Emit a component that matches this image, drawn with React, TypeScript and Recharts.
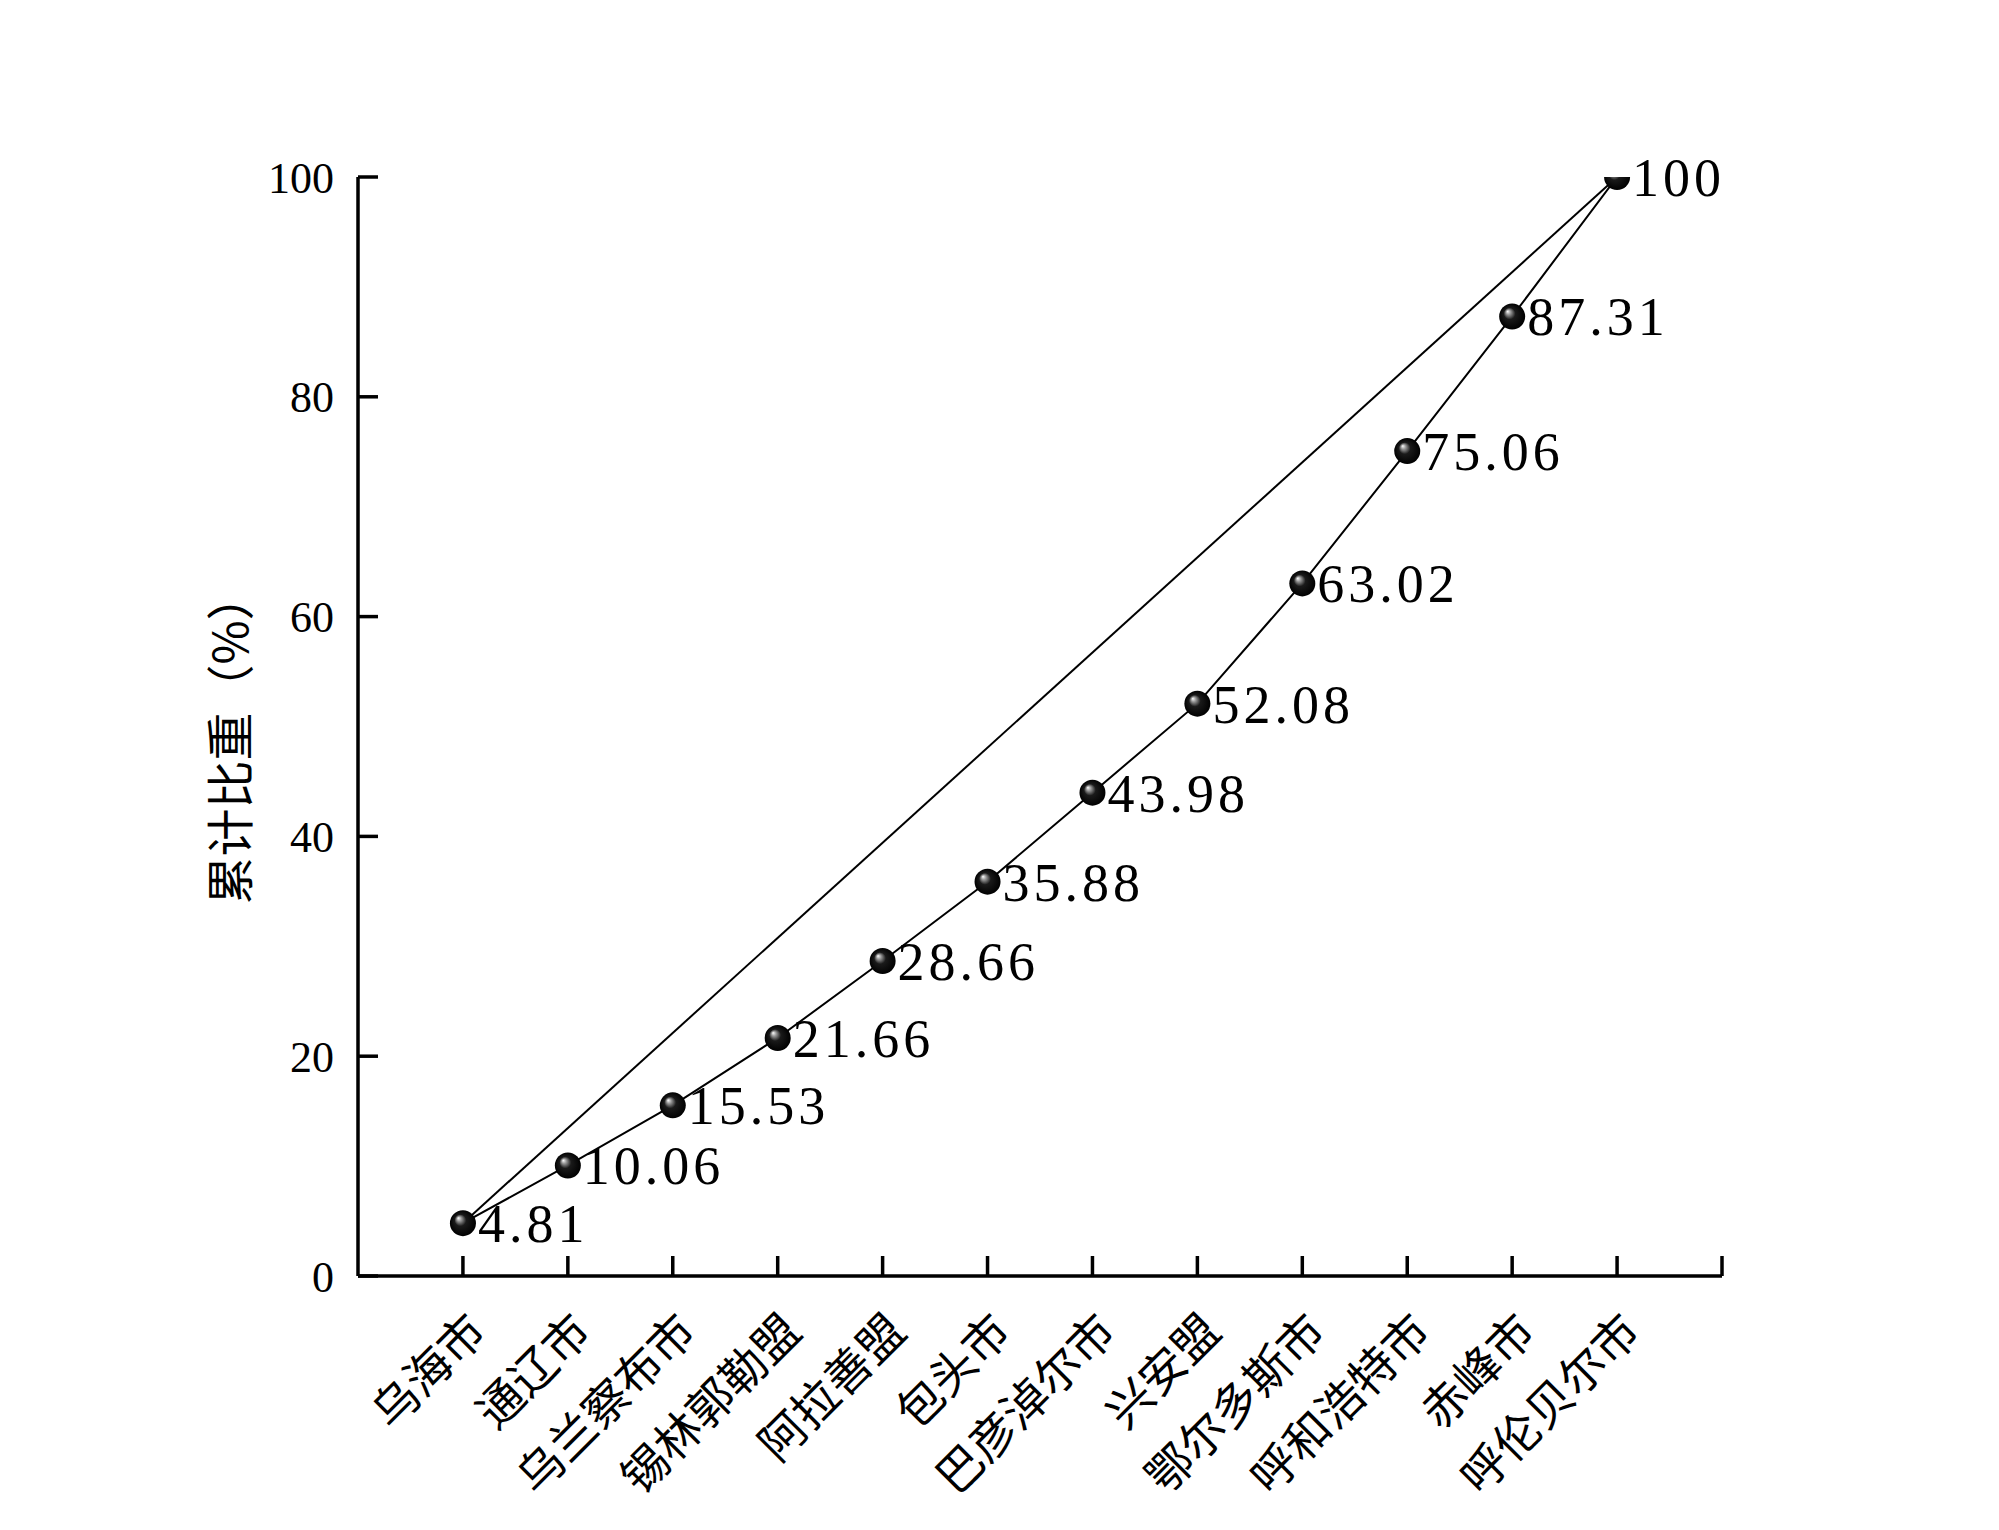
import React from 'react';
import { LineChart, Line, XAxis, YAxis, LabelList } from 'recharts';

// cities, ordered by cumulative share
const categories = [
  '乌海市', '通辽市', '乌兰察布市', '锡林郭勒盟', '阿拉善盟', '包头市',
  '巴彦淖尔市', '兴安盟', '鄂尔多斯市', '呼和浩特市', '赤峰市', '呼伦贝尔市',
];
const cumulative = [4.81, 10.06, 15.53, 21.66, 28.66, 35.88, 43.98, 52.08, 63.02, 75.06, 87.31, 100];
const yTicks = [0, 20, 40, 60, 80, 100];
const xTicks = [1, 2, 3, 4, 5, 6, 7, 8, 9, 10, 11, 12, 13];

const last = cumulative.length - 1;
const data = categories.map((name, i) => ({
  idx: i + 1,
  name,
  value: cumulative[i],
  // straight reference line: only the two end points
  eq: i === 0 || i === last ? cumulative[i] : null,
}));

const Ball = (props: any) => {
  const { cx, cy, index } = props;
  if (cx == null || cy == null) return <g key={index} />;
  return <circle key={index} cx={cx} cy={cy} r={13} fill="url(#ball)" />;
};

const ValueLabel = (props: any) => {
  const { x, y, value } = props;
  return (
    <text
      x={x + 15}
      y={y + 19}
      fontFamily="'Liberation Serif', serif"
      fontSize={54}
      letterSpacing={4}
      fill="#000"
    >
      {value}
    </text>
  );
};

const CityTick = (props: any) => {
  const { x, y, payload } = props;
  const label = categories[payload.value - 1] ?? '';
  const ax = x + 26;
  const ay = y + 58;
  return (
    <text
      x={ax}
      y={ay}
      transform={`rotate(-45 ${ax} ${ay})`}
      textAnchor="end"
      fontFamily="'Noto Sans CJK SC', sans-serif"
      fontSize={46}
      fill="#000"
    >
      {label}
    </text>
  );
};

const YTitle = (props: any) => {
  const { viewBox } = props;
  const cx = 227;
  const cy = viewBox.y + viewBox.height / 2 + 12;
  return (
    <text
      x={cx}
      y={cy}
      transform={`rotate(-90 ${cx} ${cy})`}
      textAnchor="middle"
      dominantBaseline="central"
      fontFamily="'Noto Sans CJK SC', sans-serif"
      fontSize={48}
      fill="#000"
    >
      累计比重（%）
    </text>
  );
};

export default function App() {
  return (
    <div style={{ width: 1999, height: 1530, background: '#fff' }}>
      <style>{'body{margin:0}'}</style>
      <LineChart
        width={1999}
        height={1530}
        data={data}
        margin={{ top: 177, right: 277, left: 0, bottom: 0 }}
      >
        <defs>
          <radialGradient id="ball" cx="50%" cy="50%" r="50%" fx="32%" fy="30%">
            <stop offset="0%" stopColor="#ffffff" />
            <stop offset="18%" stopColor="#9a9a9a" />
            <stop offset="45%" stopColor="#1a1a1a" />
            <stop offset="100%" stopColor="#000000" />
          </radialGradient>
        </defs>
        <XAxis
          type="number"
          dataKey="idx"
          domain={[0, 13]}
          ticks={xTicks}
          height={254}
          interval={0}
          stroke="#000"
          axisLine={{ stroke: '#000', strokeWidth: 3.5 }}
          tickLine={{ stroke: '#000', strokeWidth: 3.5 }}
          tickSize={-20}
          tickMargin={20}
          tick={<CityTick />}
        />
        <YAxis
          domain={[0, 100]}
          ticks={yTicks}
          allowDataOverflow
          width={358}
          stroke="#000"
          axisLine={{ stroke: '#000', strokeWidth: 3.5 }}
          tickLine={{ stroke: '#000', strokeWidth: 3.5 }}
          tickSize={-20}
          tickMargin={44}
          tick={{ fill: '#000', fontSize: 44, fontFamily: "'Liberation Serif', serif" }}
          label={<YTitle />}
        />
        <Line
          dataKey="eq"
          connectNulls
          stroke="#000"
          strokeWidth={2}
          dot={false}
          activeDot={false}
          isAnimationActive={false}
        />
        <Line
          dataKey="value"
          stroke="#000"
          strokeWidth={2}
          dot={<Ball />}
          activeDot={false}
          isAnimationActive={false}
        >
          <LabelList dataKey="value" content={<ValueLabel />} />
        </Line>
      </LineChart>
    </div>
  );
}
